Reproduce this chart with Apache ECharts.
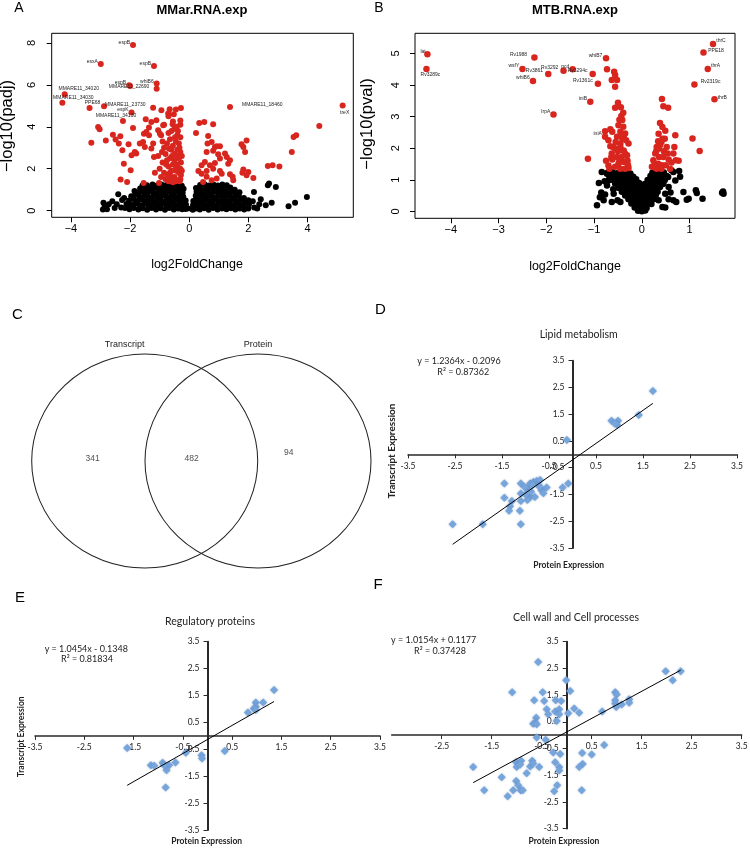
<!DOCTYPE html>
<html><head><meta charset="utf-8">
<script src="https://cdn.jsdelivr.net/npm/echarts@6/dist/echarts.min.js"></script>
<style>html,body{margin:0;padding:0;background:#fff}#c{width:750px;height:848px}</style>
</head><body><div id="c"></div>
<script>
// ---------------- DATA ----------------
// Panel A: MMar.RNA.exp volcano  [log2FoldChange, -log10(padj)]
const volcA_black = [
[-2.17,0.12],[-2.12,0.32],[-2.02,0.06],[-1.98,0.27],[-2.03,0.48],[-1.96,0.68],
[-1.88,0.12],[-1.84,0.34],[-1.87,0.56],[-1.82,0.78],[-1.85,0.93],
[-1.72,0.05],[-1.69,0.24],[-1.73,0.46],[-1.68,0.66],[-1.71,0.86],[-1.66,1.05],
[-1.57,0.11],[-1.53,0.31],[-1.56,0.52],[-1.52,0.71],[-1.55,0.9],[-1.51,1.1],[-1.58,1.2],
[-1.42,0.04],[-1.38,0.26],[-1.41,0.44],[-1.37,0.64],[-1.4,0.86],[-1.36,1.04],[-1.43,1.21],
[-1.27,0.12],[-1.23,0.3],[-1.26,0.51],[-1.22,0.7],[-1.25,0.91],[-1.21,1.09],[-1.24,1.25],
[-1.12,0.05],[-1.08,0.24],[-1.11,0.46],[-1.07,0.66],[-1.1,0.84],[-1.06,1.06],[-1.09,1.2],
[-0.97,0.11],[-0.93,0.31],[-0.96,0.49],[-0.92,0.71],[-0.95,0.89],[-0.91,1.11],[-0.94,1.25],
[-0.82,0.04],[-0.78,0.26],[-0.81,0.44],[-0.77,0.66],[-0.8,0.86],[-0.76,1.04],[-0.79,1.21],
[-0.67,0.12],[-0.63,0.3],[-0.66,0.51],[-0.62,0.69],[-0.65,0.91],[-0.61,1.09],[-0.64,1.26],
[-0.52,0.05],[-0.48,0.24],[-0.51,0.46],[-0.47,0.64],[-0.5,0.86],[-0.46,1.05],[-0.49,1.2],
[-0.37,0.1],[-0.33,0.31],[-0.36,0.49],[-0.32,0.71],[-0.35,0.89],[-0.31,1.1],[-0.34,1.25],
[-0.24,0.06],[-0.21,0.26],[-0.23,0.44],[-0.2,0.66],[-0.22,0.85],[-0.19,1.04],[-0.25,1.18],
[-0.13,0.08],[-0.11,0.29],[-0.12,0.48],[-0.06,0.1],
[-2.9,0.38],[-2.86,0.18],[-2.78,0.06],[-2.72,0.3],[-2.6,0.44],[-2.52,0.12],[-2.4,0.78],
[-2.45,0.3],[-2.3,0.15],[-2.27,0.5],[-2.2,0.6],[-2.92,0.05],
[0.06,0.1],[0.12,0.04],[0.13,0.27],[0.14,0.46],
[0.23,0.1],[0.21,0.31],[0.24,0.52],[0.22,0.71],[0.25,0.9],[0.23,1.08],
[0.36,0.05],[0.34,0.25],[0.37,0.46],[0.33,0.65],[0.36,0.86],[0.34,1.04],[0.37,1.22],
[0.51,0.11],[0.49,0.31],[0.52,0.5],[0.48,0.7],[0.51,0.91],[0.49,1.1],[0.52,1.26],
[0.66,0.04],[0.64,0.26],[0.67,0.44],[0.63,0.66],[0.66,0.84],[0.64,1.06],[0.67,1.2],
[0.81,0.12],[0.79,0.3],[0.82,0.51],[0.78,0.69],[0.81,0.91],[0.79,1.09],[0.82,1.24],
[0.96,0.05],[0.94,0.24],[0.97,0.46],[0.93,0.64],[0.96,0.86],[0.94,1.05],[0.97,1.2],
[1.11,0.1],[1.09,0.31],[1.12,0.49],[1.08,0.71],[1.11,0.89],[1.09,1.1],[1.12,1.25],
[1.26,0.06],[1.24,0.26],[1.27,0.44],[1.23,0.66],[1.26,0.85],[1.24,1.04],[1.27,1.21],
[1.41,0.11],[1.39,0.29],[1.42,0.5],[1.38,0.7],[1.41,0.9],[1.39,1.1],
[1.56,0.05],[1.54,0.25],[1.57,0.45],[1.53,0.65],[1.56,0.84],[1.54,1.0],
[1.71,0.1],[1.69,0.3],[1.72,0.5],[1.68,0.7],[1.7,0.88],
[1.86,0.05],[1.84,0.24],[1.87,0.44],[1.85,0.6],
[2.0,0.1],[2.02,0.3],[2.0,0.49],
[2.19,0.89],[2.42,0.54],[2.37,0.3],[2.59,0.25],[2.66,1.21],[2.7,1.29],[2.93,1.13],
[2.79,0.38],[3.36,0.21],[3.58,0.38],[3.98,0.65],[2.2,0.15],[2.15,0.45],[2.3,0.1]
];
const volcA_red = [
[-3.08,3.99],[-3.03,3.88],[-3.31,3.24],[-2.82,3.35],[-2.58,3.62],[-2.33,3.55],[-2.49,3.39],
[-2.38,3.2],[-2.26,2.88],[-2.05,3.16],[-2.21,2.24],[-2.32,1.48],[-2.1,1.37],[-1.98,1.92],
[-1.95,2.64],[-1.84,2.8],[-1.79,2.72],[-1.9,3.94],[-1.67,3.2],[-1.56,3.27],[-1.5,3.04],
[-1.47,4.36],[-1.45,3.75],[-1.53,3.67],[-1.36,3.59],[-1.36,3.96],[-1.22,4.91],[-1.28,4.23],
[-1.22,3.2],[-1.28,2.96],[-1.19,2.56],[-1.16,1.8],[-1.54,1.32],[-1.02,1.32],[-0.94,4.79],
[-1.11,4.31],[-1.05,3.83],[-0.99,3.67],[-0.88,4.07],[-0.66,4.83],[-0.71,4.63],[-0.52,4.6],
[-0.45,4.82],[-0.28,4.9],[-0.56,4.12],[-1.1,5.82],
[-0.95,3.6],[-0.9,3.3],[-0.85,3.0],[-0.8,2.7],[-0.75,2.4],[-0.7,2.1],[-0.65,1.8],[-0.6,1.5],
[-0.55,1.35],[-0.5,1.6],[-0.45,1.9],[-0.4,2.2],[-0.35,2.5],[-0.3,2.0],[-0.28,1.7],[-0.32,1.4],
[-0.4,1.45],[-0.7,1.4],[-0.8,1.5],[-0.85,1.8],[-0.9,2.3],[-0.92,2.8],[-0.6,3.8],[-0.5,3.9],
[-0.4,3.6],[-0.45,3.3],[-0.55,3.1],[-0.65,3.4],[-0.7,3.7],[-0.75,3.2],[-0.6,2.9],[-0.5,2.7],
[-0.4,2.9],[-0.35,3.2],[-0.3,3.5],[-0.3,2.8],[-0.35,1.8],[-0.55,2.2],[-0.65,2.5],[-0.5,2.4],
[-0.45,2.0],[-0.6,1.9],[-0.75,1.7],[-0.42,4.0],[-0.55,4.25],[-0.38,3.8],[-0.28,2.3],[-0.3,1.5],
[-0.45,1.4],[-0.62,1.6],[-1.0,2.0],[-1.05,2.6],[-0.95,1.6],[-0.85,4.1],[-0.7,4.5],[-0.3,4.1],
[-0.33,3.0],[-0.48,3.5],[-0.68,2.95],[-0.78,2.2],[-0.58,2.6],[-0.42,2.6],[-0.25,1.9],[-0.25,2.6],
[-0.3,4.3],
[0.34,4.18],[0.51,4.23],[0.81,4.12],[0.23,3.7],[0.64,3.56],[0.76,3.27],[0.62,3.2],[0.87,3.04],
[0.93,3.07],[1.04,3.07],[0.59,2.8],[0.81,2.85],[0.98,2.69],[1.21,2.72],[1.27,2.56],[1.38,2.4],
[1.32,2.24],[1.04,2.48],[0.87,2.27],[0.7,2.16],[0.53,2.32],[0.42,2.16],[0.31,1.89],[0.42,1.76],
[0.59,1.89],[0.81,2.0],[1.04,1.89],[1.1,1.76],[1.38,1.73],[1.47,1.61],[1.49,1.45],[0.76,1.45],
[0.59,1.61],[0.47,1.37],[0.93,1.53],[1.77,3.16],[1.94,3.35],[1.83,3.04],[1.89,2.8],[1.83,1.96],
[2.0,1.84],[1.94,1.69],[2.17,1.56],[1.8,1.8],[2.66,2.13],[2.82,2.16],[3.05,2.11],[3.47,2.8],
[3.53,3.51],[3.62,3.59],[4.4,4.04]
];
const volcA_labelNames = ['espB','esxA','espB','whiB6','espB','MMARE11_22690','MMARE11_34020',
  'MMARE11_34030','PPE68','MMARE11_23730','espK','MMARE11_34130','MMARE11_18460','treX'];
const volcA_labelPts = [[-1.9,7.9],[-2.99,7.0],[-1.19,6.9],[-1.1,6.06],[-2.03,5.98],[-2.0,5.95],
  [-4.21,5.55],[-4.29,5.15],[-3.37,4.9],[-2.88,4.98],[-1.95,4.68],[-2.24,4.27],[1.38,4.94],[5.19,5.02]];

// Panel B: MTB.RNA.exp volcano  [log2FoldChange, -log10(pval)]
const volcB_black = [
[-0.08,0.02],[0.0,0.0],[0.07,0.03],
[-0.15,0.12],[-0.07,0.1],[0.02,0.13],[0.1,0.11],
[-0.22,0.25],[-0.13,0.23],[-0.04,0.26],[0.05,0.24],[0.14,0.26],[0.2,0.23],
[-0.28,0.38],[-0.19,0.36],[-0.1,0.39],[0.0,0.37],[0.1,0.39],[0.19,0.36],[0.26,0.39],
[-0.35,0.5],[-0.26,0.52],[-0.17,0.49],[-0.08,0.51],[0.02,0.5],[0.11,0.52],[0.2,0.49],[0.29,0.51],
[-0.42,0.62],[-0.33,0.64],[-0.24,0.61],[-0.15,0.63],[-0.05,0.62],[0.05,0.64],[0.15,0.61],[0.24,0.63],[0.33,0.62],
[-0.5,0.75],[-0.4,0.77],[-0.3,0.74],[-0.2,0.76],[-0.1,0.75],[0.0,0.77],[0.1,0.74],[0.2,0.76],[0.3,0.75],[0.38,0.77],
[-0.56,0.88],[-0.46,0.9],[-0.36,0.87],[-0.26,0.89],[-0.16,0.88],[-0.06,0.9],[0.06,0.87],[0.16,0.89],[0.26,0.88],[0.36,0.9],[0.44,0.87],
[-0.62,1.0],[-0.52,1.02],[-0.42,0.99],[-0.32,1.01],[-0.22,1.0],[-0.12,1.02],[0.12,0.99],[0.22,1.01],[0.32,1.0],[0.42,1.02],[0.48,0.99],
[-0.68,1.12],[-0.58,1.14],[-0.48,1.11],[-0.38,1.13],[-0.28,1.12],[-0.18,1.1],[0.18,1.12],[0.28,1.14],[0.38,1.11],[0.46,1.13],[0.52,1.12],
[-0.72,1.22],[-0.62,1.24],[-0.52,1.21],[-0.42,1.23],[-0.32,1.22],[-0.24,1.2],[0.22,1.22],[0.3,1.24],[0.38,1.21],[0.46,1.23],
[-0.94,0.19],[-0.77,0.53],[-0.7,0.98],[-0.73,0.82],[-0.63,0.3],[-0.59,0.56],[-0.51,0.35],[-0.84,1.25],
[-0.73,1.19],[-0.45,0.3],[-0.6,0.7],[-0.65,1.1],[-0.85,0.6],[-0.8,0.35],[-0.9,0.9],[-0.78,0.95],[-0.88,0.45],
[0.43,0.14],[0.35,0.35],[0.49,0.56],[0.56,0.77],[0.55,1.09],[0.66,1.25],[0.78,1.28],[0.66,0.35],
[0.56,0.38],[0.49,0.12],[0.7,0.98],[0.87,0.61],[0.98,0.4],[0.94,0.37],[1.13,0.67],[1.15,0.58],
[1.27,0.4],[1.68,0.59],[1.7,0.63],[1.71,0.56],[0.35,0.82],[0.62,1.3],[0.6,0.6],[0.72,0.3],[0.8,1.1],[0.45,0.9]
];
const volcB_red = [
[-1.13,1.67],[1.06,2.31],[1.21,1.91],
[-0.73,4.5],[-0.58,4.42],[-0.56,4.32],[-0.63,4.16],[-0.52,4.16],[-0.56,3.95],[-0.5,3.44],[-0.56,3.28],
[-0.39,3.12],[-0.43,3.02],[-0.41,2.89],[-0.49,2.73],[-0.39,2.68],[-0.66,2.6],[-0.45,2.52],[-0.35,2.47],
[-0.52,2.36],[-0.41,2.31],[-0.33,2.25],[-0.45,2.15],[-0.66,2.06],[-0.6,2.04],[-0.56,1.99],[-0.45,2.04],
[-0.38,1.93],[-0.63,1.83],[-0.52,1.72],[-0.42,1.72],[-0.31,1.78],[-0.62,1.64],[-0.49,1.51],[-0.38,1.56],
[-0.29,1.46],[-0.56,1.41],[-0.45,1.35],[-0.35,1.35],[-0.28,1.37],[-0.77,2.54],[-0.62,2.52],[-0.38,2.36],
[-0.7,2.25],[-0.55,2.2],[-0.28,2.15],[-0.64,1.72],[-0.7,1.45],[-0.75,1.6],[-0.68,1.35],[-0.36,1.85],
[-0.47,1.6],[-0.5,1.9],[-0.42,2.45],[-0.47,2.9],[-0.44,3.3],[-0.3,1.6],
[0.42,3.56],[0.45,3.33],[0.55,3.28],[0.38,2.8],[0.43,2.67],[0.49,2.55],[0.35,2.46],[0.34,2.22],
[0.41,2.2],[0.31,2.04],[0.52,2.04],[0.7,2.41],[0.68,2.04],[0.66,1.83],[0.71,1.62],[0.77,1.6],
[0.28,1.83],[0.36,1.72],[0.45,1.72],[0.24,1.62],[0.34,1.51],[0.42,1.46],[0.5,1.46],[0.21,1.41],
[0.31,1.35],[0.41,1.35],[0.59,1.35],[0.54,1.83],[0.43,2.3],[0.36,1.99],[0.27,1.51],[0.56,1.64],
[0.38,2.1],[0.46,1.9],[0.3,1.9],[0.25,1.4],[0.62,1.55],[0.48,2.3]
];
const volcB_labelNames = ['lat','Rv3289c','Rv1988','whiB7','wsfY','Rv3861','Rv3292','pcd','Rv3294c',
  'whiB6','Rv1361c','iniB','lrpA','iniA','thrC','PPE18','thrA','Rv2319c','thrB'];
const volcB_labelPts = [[-4.49,4.98],[-4.51,4.51],[-2.25,4.87],[-0.75,4.85],[-2.5,4.51],[-1.96,4.35],
  [-1.64,4.45],[-1.45,4.5],[-1.03,4.35],[-2.28,4.13],[-0.92,4.04],[-1.08,3.47],[-1.85,3.07],[-0.77,2.36],
  [1.49,5.3],[1.29,5.03],[1.38,4.51],[1.1,4.02],[1.52,3.55]];
const volcA_xTicks = [-4,-2,0,2,4];
const volcA_yTicks = [0,2,4,6,8];
const volcB_xTicks = [-4,-3,-2,-1,0,1];
const volcB_yTicks = [0,1,2,3,4,5];

// Panel C: Venn
const vennSets = ['Transcript','Protein'];
const vennCounts = [341, 482, 94];   // transcript only, both, protein only

// Panels D-F: [Protein Expression, Transcript Expression]
const lipidPts = [[1.71,2.37],[1.41,1.47],[0.83,1.26],[0.97,1.26],[0.95,1.1],[0.9,1.15],[-0.12,0.54],
 [-2.55,-2.61],[-1.91,-2.61],[-1.10,-2.61],[-1.45,-1.09],[-1.45,-1.62],[-1.29,-1.74],[-1.33,-1.94],
 [-1.35,-2.11],[-1.12,-2.11],[-1.10,-1.09],[-1.10,-1.46],[-1.10,-1.74],[-0.97,-1.27],[-0.90,-1.09],
 [-0.83,-1.03],[-0.76,-1.0],[-0.73,-1.15],[-0.90,-1.59],[-0.80,-1.59],[-0.96,-1.71],[-0.66,-1.34],
 [-0.55,-1.24],[-1.0,-1.5],[-0.88,-1.4],[-0.09,-1.09],[-0.21,-1.24],[-0.69,-0.96],
 [-0.85,-1.15],[-0.62,-1.45],[-1.02,-1.22],[-0.7,-1.2]];
const regulatoryPts = [[1.35,1.70],[1.13,1.24],[0.98,1.24],[0.98,1.08],[0.94,1.02],[0.98,0.96],[0.82,0.87],
 [0.35,-0.56],[-0.12,-0.72],[-0.11,-0.84],[-0.44,-0.63],[-1.63,-0.45],[-1.15,-1.09],[-1.08,-1.11],
 [-0.91,-1.0],[-0.78,-1.09],[-0.65,-0.99],[-0.83,-1.28],[-0.85,-1.92],[-0.88,-1.09]];
const cellWallPts = [[-0.57,2.74],[-1.09,1.61],[-0.65,1.31],[-0.48,1.61],[-0.45,1.28],[-0.22,1.31],[-0.11,1.28],
 [-0.01,2.06],[0.07,1.65],[-0.4,0.97],[-0.37,0.78],[-0.23,0.88],[-0.15,0.97],[-0.15,0.78],[0.03,0.82],
 [0.15,1.0],[0.25,0.84],[-0.61,0.65],[-0.63,0.47],[-0.67,0.43],[-0.6,0.41],[-0.2,0.53],[0.71,0.88],
 [0.97,1.61],[1.0,1.52],[0.97,1.31],[0.97,1.18],[0.99,1.05],[1.1,1.15],[1.25,1.34],[1.25,1.21],
 [1.98,2.39],[2.28,2.39],[2.12,2.06],[-0.6,-0.09],[-0.42,-0.17],[-0.27,-0.65],[-0.13,-0.71],
 [-0.23,-1.02],[-0.15,-1.2],[-0.15,-1.33],[-0.19,-1.88],[-0.25,-2.1],[0.31,-0.67],[0.5,-0.73],
 [0.75,-0.37],[0.32,-1.08],[0.25,-1.2],[0.3,-2.07],[-1.87,-1.2],[-1.65,-2.07],[-1.3,-1.58],
 [-1.18,-2.29],[-1.07,-2.07],[-1.01,-1.02],[-1.0,-1.2],[-0.91,-0.96],[-1.01,-1.72],[-0.97,-1.88],
 [-0.92,-2.07],[-0.88,-2.07],[-0.8,-1.43],[-0.73,-1.18],[-0.69,-0.96],[-0.67,-1.06],[-0.55,-1.2],[-0.93,-1.1]];
const fitLipid = {slope:1.2364, intercept:-0.2096, r2:'0.87362'};
const fitRegulatory = {slope:1.0454, intercept:-0.1348, r2:'0.81834'};
const fitCellWall = {slope:1.0154, intercept:0.1177, r2:'0.37428'};
const exprTicks = [-3.5,-2.5,-1.5,-0.5,0.5,1.5,2.5,3.5];
const exprTicksF = [-2.5,-1.5,-0.5,0.5,1.5,2.5,3.5];

// ---------------- STYLE / LAYOUT ----------------
const fR = 'Liberation Sans, Arial, sans-serif';
const fX = 'Lato, Carlito, sans-serif';
const RED = '#d8261f';
const labelStyleA = [
 {p:'left',d:0,o:[0,-2]},{p:'left',d:0,o:[0,-2]},{p:'left',d:0,o:[0,-2]},{p:'left',d:0,o:[0,-2]},
 {p:'left',d:0,o:[0,-3]},{p:'inside',d:0,o:[-1,1]},{p:'top',d:1,o:[14,1]},{p:'top',d:1,o:[11,1]},
 {p:'top',d:1,o:[3,1]},{p:'right',d:-2,o:[0,-2]},{p:'left',d:0,o:[0,-3]},{p:'top',d:1,o:[-7,1]},
 {p:'right',d:9,o:[0,-2]},{p:'bottom',d:2,o:[2,0]}];
const labelStyleB = [
 {p:'left',d:-1.5,o:[0,-3]},{p:'bottom',d:0,o:[4,0]},{p:'left',d:4,o:[0,-3]},{p:'left',d:0.5,o:[0,-3]},
 {p:'left',d:0,o:[0,-3]},{p:'left',d:2,o:[0,-3]},{p:'left',d:2,o:[0,-3]},{p:'left',d:0,o:[0,-3]},
 {p:'left',d:2,o:[0,-3]},{p:'left',d:0,o:[0,-3]},{p:'left',d:2,o:[0,-3]},{p:'left',d:0,o:[0,-3]},
 {p:'left',d:0,o:[0,-3]},{p:'left',d:0,o:[0,-3]},{p:'right',d:0,o:[0,-3]},{p:'right',d:1.5,o:[0,-2]},
 {p:'right',d:0,o:[0,-3]},{p:'right',d:3,o:[0,-3]},{p:'right',d:0,o:[0,-2]}];
const vennLayout = {centers:[[144.7,461],[258,461]], size:[226,214],
  countPos:[[92.7,458.5],[191.7,458.5],[288.7,453]], nameOffset:[[-20,0],[0,0]]};

const minus = v => String(v).replace('-', '\u2212');

function rAxisX(gi, min, max, ticks){
  return {gridIndex:gi, type:'value', min, max, axisLine:{show:false, onZero:false},
    splitLine:{show:false},
    axisTick:{show:true, length:5, customValues:ticks, lineStyle:{color:'#000', width:1}},
    axisLabel:{customValues:ticks, formatter:minus, fontFamily:fR, fontSize:11, color:'#000', margin:6}};
}
function rAxisY(gi, min, max, ticks){
  return {gridIndex:gi, type:'value', min, max, axisLine:{show:false, onZero:false},
    splitLine:{show:false},
    axisTick:{show:true, length:5, customValues:ticks, lineStyle:{color:'#000', width:1}},
    axisLabel:{customValues:ticks, formatter:minus, rotate:90, fontFamily:fR, fontSize:11, color:'#000', margin:14}};
}
// Excel-style axes crossing at zero: axis shifted into the middle of its (symmetric) grid
function xlAxis(gi, ticks, isY, shift){
  return {gridIndex:gi, type:'value', min:-3.5, max:3.5, offset:-shift,
    axisLine:{show:true, onZero:false, lineStyle:{color:'#2a2a2a', width:isY?2:1.5}},
    splitLine:{show:false},
    axisTick:{show:true, length:4, customValues:ticks, lineStyle:{color:'#2a2a2a', width:1}},
    axisLabel:{customValues:ticks, fontFamily:fX, fontSize:8.5, color:'#222', margin:isY?8:7}};
}
function volcSeries(ai, black, red, lpts, lnames, lstyle, size){
  return [
    {type:'scatter', xAxisIndex:ai, yAxisIndex:ai, data:black, symbolSize:size, silent:true,
      itemStyle:{color:'#000', opacity:1}},
    {type:'scatter', xAxisIndex:ai, yAxisIndex:ai, data:red, symbolSize:size, silent:true,
      itemStyle:{color:RED, opacity:1}},
    {type:'scatter', xAxisIndex:ai, yAxisIndex:ai, symbolSize:size, silent:true, itemStyle:{color:RED, opacity:1},
      label:{show:true, formatter:'{b}', fontFamily:fR, fontSize:5, color:'#222'},
      data:lpts.map((p,i)=>({name:lnames[i], value:p,
        label:{position:lstyle[i].p, distance:lstyle[i].d, offset:lstyle[i].o}}))}
  ];
}
function exprSeries(ai, pts, fit){
  const xs = pts.map(p=>p[0]);
  const x0 = Math.min(...xs), x1 = Math.max(...xs);
  return [
    {type:'scatter', xAxisIndex:ai, yAxisIndex:ai, data:pts, symbol:'diamond', symbolSize:8, silent:true,
      itemStyle:{color:'#76a5dc', opacity:1, shadowBlur:2, shadowColor:'rgba(70,110,170,0.55)'}},
    {type:'line', xAxisIndex:ai, yAxisIndex:ai, showSymbol:false, silent:true, z:5,
      data:[[x0, fit.slope*x0+fit.intercept],[x1, fit.slope*x1+fit.intercept]],
      lineStyle:{color:'#000', width:1}}
  ];
}
function eqText(fit){
  const s = fit.intercept < 0 ? ' - ' : ' + ';
  return 'y = ' + fit.slope.toFixed(4) + 'x' + s + Math.abs(fit.intercept).toFixed(4);
}
function txt(x, y, text, size, opts){
  opts = opts || {};
  return {type:'text', x, y, rotation: opts.rot || 0, silent:true,
    style:{text, fontSize:size, fontFamily:opts.font || fR, fontWeight:opts.bold?'bold':'normal',
      fill:opts.color || '#000', textAlign:'center', textVerticalAlign:'middle', align:'center', verticalAlign:'middle'}};
}

const grids = [
  {left:51.7, top:33.3, width:301.6, height:184, show:true, borderColor:'#000', borderWidth:1, backgroundColor:'transparent', outerBoundsMode:'none'},
  {left:415, top:33.3, width:320, height:185, show:true, borderColor:'#000', borderWidth:1, backgroundColor:'transparent', outerBoundsMode:'none'},
  {left:0, top:0, width:750, height:848, show:false, outerBoundsMode:'none'},
  {left:408, top:360.7, width:329, height:187.3, show:false, outerBoundsMode:'none'},
  {left:35, top:641.7, width:345, height:188.3, show:false, outerBoundsMode:'none'},
  {left:391.7, top:641.7, width:350, height:186.8, show:false, outerBoundsMode:'none'}
];

const option = {
  animation:false,
  backgroundColor:'#fff',
  grid: grids,
  xAxis:[
    rAxisX(0, -4.65, 5.55, volcA_xTicks),
    rAxisX(1, -4.75, 1.95, volcB_xTicks),
    {gridIndex:2, type:'value', min:0, max:750, show:false},
    xlAxis(3, exprTicks, false, grids[3].height/2),
    xlAxis(4, exprTicks, false, grids[4].height/2),
    xlAxis(5, exprTicksF, false, grids[5].height/2)
  ],
  yAxis:[
    rAxisY(0, -0.32, 8.46, volcA_yTicks),
    rAxisY(1, -0.22, 5.64, volcB_yTicks),
    {gridIndex:2, type:'value', min:0, max:848, inverse:true, show:false},
    xlAxis(3, exprTicks, true, grids[3].width/2),
    xlAxis(4, exprTicks, true, grids[4].width/2),
    xlAxis(5, exprTicks, true, grids[5].width/2)
  ],
  series:[
    ...volcSeries(0, volcA_black, volcA_red, volcA_labelPts, volcA_labelNames, labelStyleA, 6),
    ...volcSeries(1, volcB_black, volcB_red, volcB_labelPts, volcB_labelNames, labelStyleB, 6.5),
    {type:'scatter', xAxisIndex:2, yAxisIndex:2, silent:true, symbol:'circle', symbolSize:vennLayout.size,
      itemStyle:{color:'rgba(0,0,0,0)', borderColor:'#222', borderWidth:1, opacity:1},
      label:{show:true, position:'top', distance:4, formatter:'{b}', fontFamily:fR, fontSize:9, color:'#222'},
      data:vennSets.map((n,i)=>({name:n, value:vennLayout.centers[i], label:{offset:vennLayout.nameOffset[i]}}))},
    {type:'scatter', xAxisIndex:2, yAxisIndex:2, silent:true, symbolSize:1, itemStyle:{color:'rgba(0,0,0,0)'},
      label:{show:true, position:'inside', formatter:p=>String(vennCounts[p.dataIndex]), fontFamily:fR, fontSize:8.5, color:'#222'},
      data:vennLayout.countPos},
    ...exprSeries(3, lipidPts, fitLipid),
    ...exprSeries(4, regulatoryPts, fitRegulatory),
    ...exprSeries(5, cellWallPts, fitCellWall)
  ],
  graphic:[
    txt(19,8,'A',14), txt(379,8,'B',14), txt(17.5,314.5,'C',15), txt(380.3,310,'D',15),
    txt(20,597.5,'E',15), txt(378,585,'F',15),
    txt(202,10.5,'MMar.RNA.exp',13,{bold:true}), txt(575,10.5,'MTB.RNA.exp',13,{bold:true}),
    txt(197,265,'log2FoldChange',12.5), txt(575,267,'log2FoldChange',12.5),
    txt(7,126,'\u2212log10(padj)',16.5,{rot:Math.PI/2}), txt(367.5,124,'\u2212log10(pval)',16.5,{rot:Math.PI/2}),
    txt(578.7,335,'Lipid metabolism',10.5,{font:fX,color:'#222'}),
    txt(210,621.7,'Regulatory proteins',10.5,{font:fX,color:'#222'}),
    txt(576,617.7,'Cell wall and Cell processes',10.5,{font:fX,color:'#222'}),
    txt(459,360.7,eqText(fitLipid),9,{font:fX,color:'#222'}),
    txt(463.3,372,'R\u00b2 = '+fitLipid.r2,9,{font:fX,color:'#222'}),
    txt(86.3,649,eqText(fitRegulatory),9,{font:fX,color:'#222'}),
    txt(87,659,'R\u00b2 = '+fitRegulatory.r2,9,{font:fX,color:'#222'}),
    txt(433.7,640.3,eqText(fitCellWall),9,{font:fX,color:'#222'}),
    txt(440,651,'R\u00b2 = '+fitCellWall.r2,9,{font:fX,color:'#222'}),
    txt(568.7,565,'Protein Expression',8.5,{font:fX,bold:true,color:'#222'}),
    txt(206.7,841.7,'Protein Expression',8.5,{font:fX,bold:true,color:'#222'}),
    txt(564,841,'Protein Expression',8.5,{font:fX,bold:true,color:'#222'}),
    txt(392,451,'Transcript Expression',10,{font:fX,bold:true,color:'#222',rot:Math.PI/2}),
    txt(21.7,736.7,'Transcript Expression',8.5,{font:fX,bold:true,color:'#222',rot:Math.PI/2})
  ]
};
const chart = echarts.init(document.getElementById('c'), null, {renderer:'canvas'});
chart.setOption(option);
</script></body></html>
